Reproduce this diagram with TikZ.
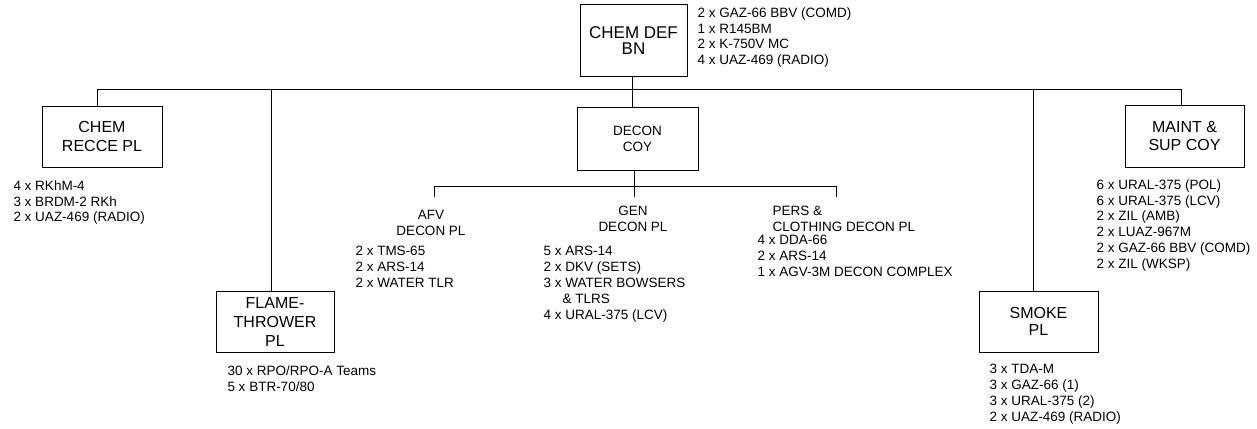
\documentclass[tikz,border=0pt]{standalone}
\usepackage{fontspec}
\setmainfont{Liberation Sans}
\begin{document}
\begin{tikzpicture}[x=1pt,y=-1pt,line width=1pt,
  unitbox/.style={draw, rectangle, inner sep=0pt, align=center},
  bigtext/.style={font=\fontsize{16}{19}\selectfont},
  items/.style={anchor=north west, align=left, inner sep=0pt, font=\fontsize{13.5}{15.8}\selectfont, execute at begin node={\strut}},
  sublabel/.style={anchor=north, align=center, inner sep=0pt, font=\fontsize{13.5}{15.8}\selectfont, execute at begin node={\strut}}]
\useasboundingbox (0,0) rectangle (1257,428);

% boxes
\node[unitbox, minimum width=107, minimum height=71, font=\fontsize{17}{16}\selectfont] (bn) at (633.5,40.5) {CHEM DEF\\BN};
\node[unitbox, bigtext, minimum width=120, minimum height=61] (recce) at (102,136.5) {CHEM\\RECCE PL};
\node[unitbox, minimum width=121, minimum height=63, font=\fontsize{13.5}{16}\selectfont] (decon) at (637.5,138.5) {DECON\\COY};
\node[unitbox, minimum width=119, minimum height=62, font=\fontsize{16}{18}\selectfont] (maint) at (1184.5,136) {MAINT \&\\SUP COY};
\node[unitbox, bigtext, minimum width=118, minimum height=61] (flame) at (275,321.5) {FLAME-\\THROWER\\PL};
\node[unitbox, minimum width=119, minimum height=61, font=\fontsize{16}{17}\selectfont] (smoke) at (1038.5,321.5) {SMOKE\\PL};

% equipment lists (node tops = first baseline - 11.06)
\node[items] (bnitems) at (697,6.94) {2 x GAZ-66 BBV (COMD)\\1 x R145BM\\2 x K-750V MC\\4 x UAZ-469 (RADIO)};
\node[items] (recceitems) at (13,179.94) {4 x RKhM-4\\3 x BRDM-2 RKh\\2 x UAZ-469 (RADIO)};
\node[items] (flameitems) at (227,364.94) {30 x RPO/RPO-A Teams\\5 x BTR-70/80};
\node[items] (maintitems) at (1096,178.94) {6 x URAL-375 (POL)\\6 x URAL-375 (LCV)\\2 x ZIL (AMB)\\2 x LUAZ-967M\\2 x GAZ-66 BBV (COMD)\\2 x ZIL (WKSP)};
\node[items] (smokeitems) at (989,363.94) {3 x TDA-M\\3 x GAZ-66 (1)\\3 x URAL-375 (2)\\2 x UAZ-469 (RADIO)};

% decon platoons
\node[sublabel] (afv) at (431,209.94) {AFV\\DECON PL};
\node[items] (afvitems) at (355,245.94) {2 x TMS-65\\2 x ARS-14\\2 x WATER TLR};
\node[sublabel] (gen) at (633,205.94) {GEN\\DECON PL};
\node[items] (genitems) at (543,245.94) {5 x ARS-14\\2 x DKV (SETS)\\3 x WATER BOWSERS\\\hspace*{19pt}\& TLRS\\4 x URAL-375 (LCV)};
\node[items] (pers) at (772,205.94) {PERS \&\\CLOTHING DECON PL};
\node[items] (persitems) at (757,234.94) {4 x DDA-66\\2 x ARS-14\\1 x AGV-3M DECON COMPLEX};

% connectors
\coordinate (bus) at (0,89);
\coordinate (sub) at (0,186);
\coordinate (afvtop) at (434,197);
\coordinate (gentop) at (634,197);
\coordinate (perstop) at (836,197);

\draw ([xshift=-5pt]recce.north) -- ([xshift=-5pt]recce.north |- bus)
   -- ([xshift=-3.5pt]maint.north |- bus) -- ([xshift=-3.5pt]maint.north);
\draw ([xshift=-1.5pt]bn.south) -- ([xshift=-1.5pt]bn.south |- decon.north);
\draw ([xshift=-4pt]flame.north) -- ([xshift=-4pt]flame.north |- bus);
\draw ([xshift=-5.5pt]smoke.north) -- ([xshift=-5.5pt]smoke.north |- bus);
\draw (gentop) -- (gentop |- decon.south);
\draw (afvtop) -- (afvtop |- sub) -- (perstop |- sub) -- (perstop);
\end{tikzpicture}
\end{document}
